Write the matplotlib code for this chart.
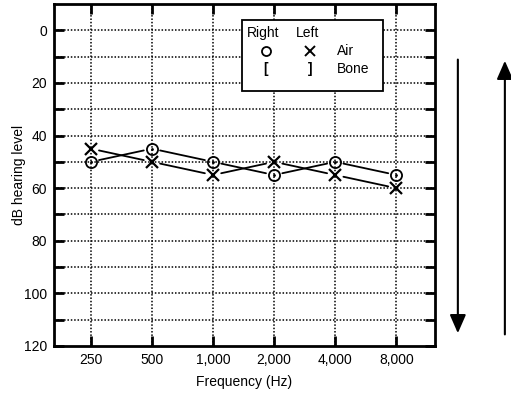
import matplotlib

matplotlib.use("Agg")
import matplotlib.pyplot as plt
from matplotlib.patches import Rectangle, FancyArrowPatch

plt.rcParams["font.family"] = ["Liberation Sans", "DejaVu Sans"]

frequencies = ["250", "500", "1,000", "2,000", "4,000", "8,000"]
right_air = [50, 45, 50, 55, 50, 55]
left_air = [45, 50, 55, 50, 55, 60]
db_ticks = list(range(0, 121, 20))
db_grid = list(range(0, 120, 10))

fig = plt.figure(figsize=(5.11, 4.0), dpi=100)
ax = fig.add_axes([0.106, 0.135, 0.745, 0.855])

x = list(range(len(frequencies)))

# dotted grid
for v in db_grid:
    ax.axhline(v, color="black", linestyle=(0, (1, 1.2)), linewidth=1.1, zorder=1)
for xi in x:
    ax.axvline(xi, color="black", linestyle=(0, (1, 1.2)), linewidth=1.1, zorder=1)

# connecting lines with small gaps at the symbols
def connect(vals):
    for i in range(len(vals) - 1):
        ax.annotate("", xy=(x[i + 1], vals[i + 1]), xytext=(x[i], vals[i]),
                    arrowprops=dict(arrowstyle="-", color="black", lw=1.3,
                                    shrinkA=6, shrinkB=6), zorder=3)

connect(right_air)
connect(left_air)

ax.plot(x, right_air, linestyle="none", marker="o", markersize=8,
        markerfacecolor="none", markeredgecolor="black", markeredgewidth=1.3, zorder=4)
ax.plot(x, right_air, linestyle="none", marker=".", markersize=2, color="black", zorder=4)
ax.plot(x, left_air, linestyle="none", marker="x", markersize=8,
        color="black", markeredgewidth=1.6, zorder=4)

ax.set_xlim(-0.6, 5.63)
ax.set_ylim(120, -10)
ax.set_xticks(x)
ax.set_xticklabels(frequencies, fontsize=10)
ax.set_yticks(db_ticks)
ax.set_yticks(db_grid[1::2], minor=True)
ax.tick_params(axis="both", which="both", direction="in", length=7, width=2,
               top=True, right=True, labelsize=10, pad=5)
ax.tick_params(axis="x", which="minor", bottom=False, top=False)

for s in ax.spines.values():
    s.set_linewidth(2)

ax.set_xlabel("Frequency (Hz)", fontsize=10, labelpad=6)
ax.set_ylabel("dB hearing level", fontsize=10)
ax.yaxis.set_label_coords(-0.075, 0.5)

# symbol key box
ax.add_patch(Rectangle((0.493, 0.746), 0.37, 0.207, transform=ax.transAxes,
                       facecolor="white", edgecolor="black", linewidth=1.3, zorder=5))
ax.text(0.506, 0.915, "Right", transform=ax.transAxes, fontsize=10, va="center", zorder=6)
ax.text(0.635, 0.915, "Left", transform=ax.transAxes, fontsize=10, va="center", zorder=6)
ax.plot([0.556], [0.862], transform=ax.transAxes, marker="o", markersize=6.5,
        markerfacecolor="none", markeredgecolor="black", markeredgewidth=1.3,
        clip_on=False, zorder=6)
ax.plot([0.672], [0.862], transform=ax.transAxes, marker="x", markersize=7,
        color="black", markeredgewidth=1.4, clip_on=False, zorder=6)
ax.text(0.743, 0.862, "Air", transform=ax.transAxes, fontsize=10, va="center", zorder=6)
ax.text(0.556, 0.81, "[", transform=ax.transAxes, fontsize=10, va="center", ha="center",
        fontweight="bold", zorder=6)
ax.text(0.672, 0.81, "]", transform=ax.transAxes, fontsize=10, va="center", ha="center",
        fontweight="bold", zorder=6)
ax.text(0.743, 0.81, "Bone", transform=ax.transAxes, fontsize=10, va="center", zorder=6)

# direction arrows to the right of the chart
fig.patches.append(FancyArrowPatch(
    (0.896, 0.858), (0.896, 0.16), transform=fig.transFigure,
    arrowstyle="-|>,head_width=0.35,head_length=0.8", mutation_scale=14,
    color="black", lw=1.5))
fig.patches.append(FancyArrowPatch(
    (0.988, 0.157), (0.988, 0.855), transform=fig.transFigure,
    arrowstyle="-|>,head_width=0.35,head_length=0.8", mutation_scale=14,
    color="black", lw=1.5))

fig.savefig("out.png", dpi=100)
